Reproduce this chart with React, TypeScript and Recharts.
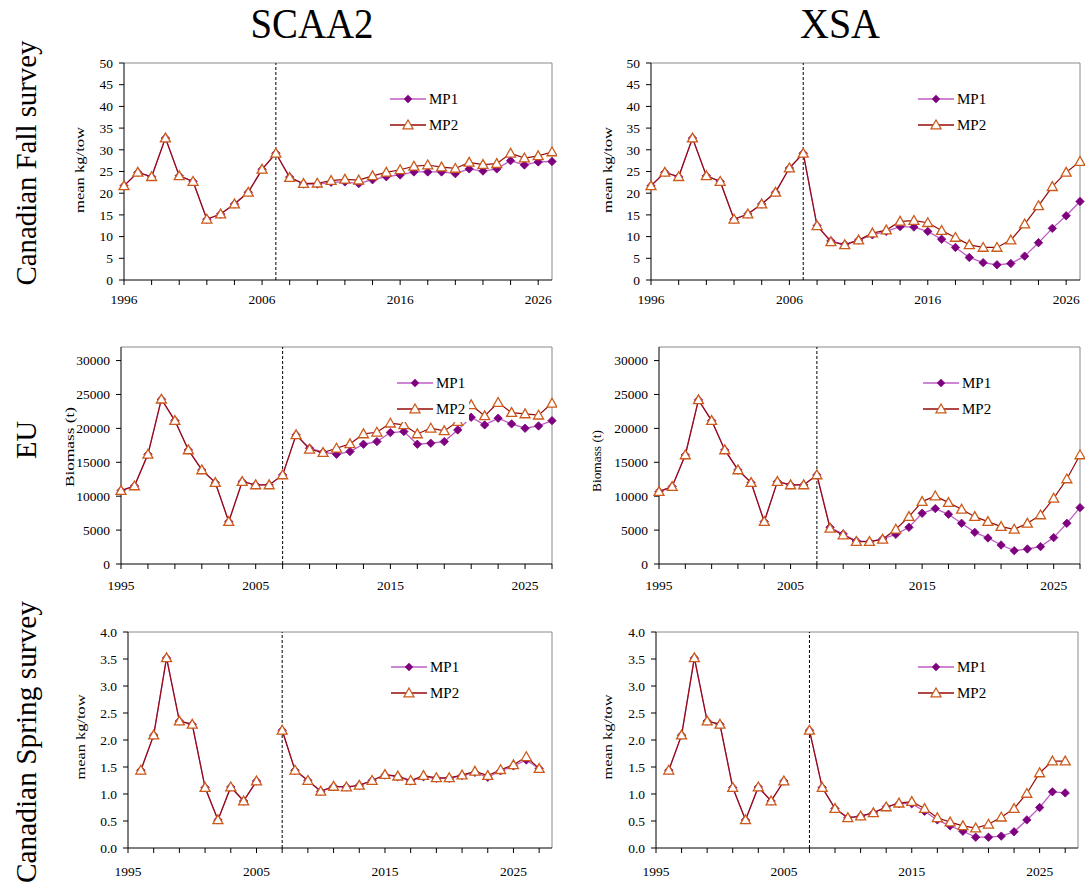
import React from 'react';
import { LineChart, Line, XAxis, YAxis, ReferenceLine, Legend } from 'recharts';

const FONT = '"Liberation Serif", "Times New Roman", serif';
const MP1_LINE = '#BE5EC6';
const MP1_DOT = '#7E007E';
const MP2_LINE = '#950A0A';
const MP2_DOT = '#CC5A1A';

// Canadian Fall survey, 1996-2027
const fallYears = [
  1996, 1997, 1998, 1999, 2000, 2001, 2002, 2003, 2004, 2005, 2006, 2007,
  2008, 2009, 2010, 2011, 2012, 2013, 2014, 2015, 2016, 2017, 2018, 2019,
  2020, 2021, 2022, 2023, 2024, 2025, 2026, 2027,
];
const fallScaaHist = [21.7, 24.8, 23.8, 32.7, 24.0, 22.7, 14.0, 15.2, 17.5, 20.2, 25.5, 29.2];
const fallScaaMP1 = [23.7, 22.1, 22.1, 22.5, 22.6, 22.2, 23.1, 23.8, 24.2, 24.9, 24.9, 24.9, 24.5, 25.6, 25.1, 25.6, 27.5, 26.5, 27.2, 27.3];
const fallScaaMP2 = [23.6, 22.2, 22.3, 22.9, 23.2, 23.0, 24.0, 24.8, 25.4, 26.2, 26.5, 26.0, 25.7, 27.1, 26.6, 26.8, 29.2, 28.1, 28.6, 29.5];
const fallXsaHist = [21.7, 24.8, 23.8, 32.7, 24.0, 22.7, 14.0, 15.2, 17.5, 20.2, 25.8, 29.2];
const fallXsaMP1 = [12.5, 9.0, 8.2, 9.2, 10.4, 11.2, 12.3, 12.2, 11.2, 9.4, 7.5, 5.2, 4.0, 3.5, 3.8, 5.5, 8.6, 11.9, 14.8, 18.1];
const fallXsaMP2 = [12.5, 8.8, 8.1, 9.2, 10.8, 11.5, 13.5, 13.7, 13.2, 11.4, 9.8, 8.1, 7.5, 7.5, 9.2, 12.9, 17.1, 21.5, 24.8, 27.3];

// EU biomass and Canadian Spring survey, 1995-2027
const longYears = [
  1995, 1996, 1997, 1998, 1999, 2000, 2001, 2002, 2003, 2004, 2005, 2006, 2007,
  2008, 2009, 2010, 2011, 2012, 2013, 2014, 2015, 2016, 2017, 2018, 2019,
  2020, 2021, 2022, 2023, 2024, 2025, 2026, 2027,
];
const euScaaHist = [10820, 11510, 16180, 24300, 21150, 16820, 13870, 12000, 6250, 12150, 11660, 11660, 13130];
const euScaaMP1 = [19040, 17070, 16480, 16180, 16580, 17660, 18050, 19380, 19530, 17660, 17810, 18050, 19770, 21640, 20510, 21500, 20660, 20020, 20360, 21140];
const euScaaMP2 = [19040, 16920, 16430, 17070, 17710, 19180, 19430, 20760, 20510, 19180, 20020, 19630, 21000, 23460, 21840, 23810, 22330, 22130, 21940, 23700];
const euXsaHist = [10670, 11410, 16080, 24200, 21150, 16820, 13870, 12000, 6250, 12150, 11660, 11660, 13130];
const euXsaMP1 = [5410, 4430, 3390, 3300, 3690, 4380, 5410, 7480, 8170, 7330, 6000, 4670, 3840, 2800, 1970, 2210, 2560, 3890, 6000, 8310];
const euXsaMP2 = [5260, 4280, 3300, 3300, 3640, 5120, 6980, 9200, 10030, 9050, 8070, 6980, 6250, 5510, 5120, 6000, 7230, 9690, 12540, 16080];

const springHist = [null, 1.44, 2.09, 3.52, 2.35, 2.29, 1.12, 0.52, 1.13, 0.87, 1.24, null, 2.18];
const springScaaMP1 = [1.44, 1.25, 1.05, 1.14, 1.13, 1.16, 1.25, 1.35, 1.32, 1.24, 1.32, 1.29, 1.29, 1.34, 1.40, 1.31, 1.43, 1.52, 1.63, 1.47];
const springScaaMP2 = [1.44, 1.25, 1.05, 1.14, 1.13, 1.16, 1.25, 1.36, 1.33, 1.25, 1.34, 1.30, 1.30, 1.35, 1.42, 1.34, 1.45, 1.54, 1.69, 1.47];
const springXsaMP1 = [1.12, 0.73, 0.56, 0.59, 0.65, 0.76, 0.82, 0.82, 0.68, 0.52, 0.41, 0.31, 0.20, 0.20, 0.22, 0.30, 0.52, 0.75, 1.04, 1.02];
const springXsaMP2 = [1.12, 0.73, 0.56, 0.59, 0.65, 0.76, 0.83, 0.86, 0.73, 0.56, 0.48, 0.41, 0.37, 0.44, 0.57, 0.73, 1.01, 1.39, 1.61, 1.61];

// ticks
const fallXTicks = [1996, 1998, 2000, 2002, 2004, 2006, 2008, 2010, 2012, 2014, 2016, 2018, 2020, 2022, 2024, 2026];
const fallXLabels = [1996, 2006, 2016, 2026];
const longXTicks = [1995, 1997, 1999, 2001, 2003, 2005, 2007, 2009, 2011, 2013, 2015, 2017, 2019, 2021, 2023, 2025, 2027];
const longXLabels = [1995, 2005, 2015, 2025];
const fallYTicks = [0, 5, 10, 15, 20, 25, 30, 35, 40, 45, 50];
const euYTicks = [0, 5000, 10000, 15000, 20000, 25000, 30000];
const springYTicks = [0, 0.5, 1.0, 1.5, 2.0, 2.5, 3.0, 3.5, 4.0];

const ASSESS_YEAR = 2007;
const Y_AXIS_W = 70;

function rows(years: number[], mp1: (number | null)[], mp2: (number | null)[]) {
  return years.map((year, i) => ({ year, mp1: mp1[i], mp2: mp2[i] }));
}

function Diamond(props: any) {
  const { cx, cy, index } = props;
  if (cx == null || cy == null || props.value == null) return <g key={`d${index}`} />;
  const r = 4.2;
  return (
    <path
      key={`d${index}`}
      d={`M${cx},${cy - r}L${cx + r},${cy}L${cx},${cy + r}L${cx - r},${cy}Z`}
      fill={MP1_DOT}
      stroke={MP1_DOT}
      strokeWidth={0.8}
    />
  );
}

function Triangle(props: any) {
  const { cx, cy, index } = props;
  if (cx == null || cy == null || props.value == null) return <g key={`t${index}`} />;
  return (
    <path
      key={`t${index}`}
      d={`M${cx},${cy - 5}L${cx + 5},${cy + 3.8}L${cx - 5},${cy + 3.8}Z`}
      fill="#fff"
      stroke={MP2_DOT}
      strokeWidth={1.3}
    />
  );
}

function LegendBox() {
  const item = (name: string, color: string, marker: React.ReactNode) => (
    <div style={{ display: 'flex', alignItems: 'center', height: 26 }}>
      <svg width={36} height={14}>
        <line x1={0} y1={7} x2={36} y2={7} stroke={color} strokeWidth={1.4} />
        {marker}
      </svg>
      <span style={{ marginLeft: 3, fontFamily: FONT, fontSize: 15, color: '#000' }}>{name}</span>
    </div>
  );
  return (
    <div style={{ background: '#fff', padding: '0 4px 0 2px' }}>
      {item('MP1', MP1_LINE, <path d="M18,2.8L22.2,7L18,11.2L13.8,7Z" fill={MP1_DOT} />)}
      {item('MP2', MP2_LINE, <path d="M18,2L23,10.8L13,10.8Z" fill="#fff" stroke={MP2_DOT} strokeWidth={1.3} />)}
    </div>
  );
}

interface Panel {
  data: { year: number; mp1: number | null; mp2: number | null }[];
  xDomain: [number, number];
  xTicks: number[];
  xLabels: number[];
  yMax: number;
  yTicks: number[];
  yFmt: (v: number) => string;
  left: number;
  top: number;
  width: number;
  height: number;
  yLabel: string;
  yLabelX: number;
  yLabelY: number;
  yLabelLen: number;
  legendX: number;
  legendY: number;
  tickGap: number;
}

const fmtInt = (v: number) => String(v);
const fmt1 = (v: number) => v.toFixed(1);

const panels: Panel[] = [
  {
    data: rows(fallYears, [...fallScaaHist, ...fallScaaMP1], [...fallScaaHist, ...fallScaaMP2]),
    xDomain: [1996, 2027], xTicks: fallXTicks, xLabels: fallXLabels,
    yMax: 50, yTicks: fallYTicks, yFmt: fmtInt,
    left: 124, top: 63, width: 428, height: 217,
    yLabel: 'mean kg/tow', yLabelX: 84, yLabelY: 170, yLabelLen: 86,
    legendX: 390, legendY: 99, tickGap: 9,
  },
  {
    data: rows(fallYears, [...fallXsaHist, ...fallXsaMP1], [...fallXsaHist, ...fallXsaMP2]),
    xDomain: [1996, 2027], xTicks: fallXTicks, xLabels: fallXLabels,
    yMax: 50, yTicks: fallYTicks, yFmt: fmtInt,
    left: 651, top: 63, width: 429, height: 217,
    yLabel: 'mean kg/tow', yLabelX: 612, yLabelY: 170, yLabelLen: 86,
    legendX: 918, legendY: 99, tickGap: 9,
  },
  {
    data: rows(longYears, [...euScaaHist, ...euScaaMP1], [...euScaaHist, ...euScaaMP2]),
    xDomain: [1995, 2027], xTicks: longXTicks, xLabels: longXLabels,
    yMax: 32000, yTicks: euYTicks, yFmt: fmtInt,
    left: 121, top: 347, width: 431, height: 217,
    yLabel: 'Biomass (t)', yLabelX: 74, yLabelY: 447, yLabelLen: 80,
    legendX: 397, legendY: 383, tickGap: 11,
  },
  {
    data: rows(longYears, [...euXsaHist, ...euXsaMP1], [...euXsaHist, ...euXsaMP2]),
    xDomain: [1995, 2027], xTicks: longXTicks, xLabels: longXLabels,
    yMax: 32000, yTicks: euYTicks, yFmt: fmtInt,
    left: 659, top: 347, width: 421, height: 217,
    yLabel: 'Biomass (t)', yLabelX: 601, yLabelY: 461, yLabelLen: 62,
    legendX: 923, legendY: 383, tickGap: 11,
  },
  {
    data: rows(longYears, [...springHist, ...springScaaMP1], [...springHist, ...springScaaMP2]),
    xDomain: [1995, 2028], xTicks: longXTicks, xLabels: longXLabels,
    yMax: 4, yTicks: springYTicks, yFmt: fmt1,
    left: 128, top: 632, width: 424, height: 216,
    yLabel: 'mean kg/tow', yLabelX: 85, yLabelY: 737, yLabelLen: 85,
    legendX: 391, legendY: 667, tickGap: 13,
  },
  {
    data: rows(longYears, [...springHist, ...springXsaMP1], [...springHist, ...springXsaMP2]),
    xDomain: [1995, 2028], xTicks: longXTicks, xLabels: longXLabels,
    yMax: 4, yTicks: springYTicks, yFmt: fmt1,
    left: 656, top: 632, width: 422, height: 216,
    yLabel: 'mean kg/tow', yLabelX: 612, yLabelY: 737, yLabelLen: 85,
    legendX: 918, legendY: 667, tickGap: 13,
  },
];

const tickStyle = { fontFamily: FONT, fontSize: 13.5, fill: '#000' };

function PanelChart({ p }: { p: Panel }) {
  const chartLeft = p.left - Y_AXIS_W;
  const chartTop = p.top - 10;
  const w = Y_AXIS_W + p.width + 5;
  const h = 10 + p.height + 40;
  return (
    <div style={{ position: 'absolute', left: chartLeft, top: chartTop, width: w, height: h }}>
      <LineChart width={w} height={h} data={p.data} margin={{ top: 10, right: 5, left: 0, bottom: 0 }}>
        <XAxis
          dataKey="year"
          type="number"
          domain={p.xDomain}
          ticks={p.xTicks}
          interval={0}
          tickFormatter={(v: number) => (p.xLabels.includes(v) ? String(v) : '')}
          axisLine={{ stroke: '#000' }}
          tickLine={{ stroke: '#000' }}
          tickSize={5}
          tickMargin={p.tickGap}
          tick={tickStyle}
          height={40}
        />
        <YAxis
          type="number"
          domain={[0, p.yMax]}
          ticks={p.yTicks}
          interval={0}
          tickFormatter={p.yFmt}
          axisLine={{ stroke: '#000' }}
          tickLine={{ stroke: '#000' }}
          tickSize={5}
          tickMargin={6}
          tick={tickStyle}
          width={Y_AXIS_W}
          label={() => (
            <text
              transform={`translate(${p.yLabelX - chartLeft},${p.yLabelY - chartTop}) rotate(-90)`}
              textAnchor="middle"
              fontFamily={FONT}
              fontSize={12.5}
              fill="#000"
              textLength={p.yLabelLen}
              lengthAdjust="spacingAndGlyphs"
            >
              {p.yLabel}
            </text>
          )}
        />
        <ReferenceLine y={p.yMax} stroke="#8a8a8a" />
        <ReferenceLine x={p.xDomain[1]} stroke="#8a8a8a" />
        <ReferenceLine x={ASSESS_YEAR} stroke="#000" strokeDasharray="3 2" />
        <Line
          dataKey="mp1"
          name="MP1"
          stroke={MP1_LINE}
          strokeWidth={1.3}
          dot={Diamond}
          activeDot={false}
          isAnimationActive={false}
        />
        <Line
          dataKey="mp2"
          name="MP2"
          stroke={MP2_LINE}
          strokeWidth={1.2}
          dot={Triangle}
          activeDot={false}
          isAnimationActive={false}
        />
        <Legend
          layout="vertical"
          align="center"
          verticalAlign="middle"
          wrapperStyle={{
            position: 'absolute',
            left: p.legendX - 2 - chartLeft,
            top: p.legendY - 13 - chartTop,
            width: 'auto',
            height: 'auto',
          }}
          content={() => <LegendBox />}
        />
      </LineChart>
    </div>
  );
}

export default function App() {
  return (
    <div style={{ position: 'absolute', left: 0, top: 0, width: 1085, height: 888, background: '#fff', overflow: 'hidden' }}>
      <svg width={1085} height={888} style={{ position: 'absolute', left: 0, top: 0 }}>
        <g fontFamily={FONT} fill="#000">
          <text x={312} y={38} fontSize={42} textAnchor="middle" textLength={123} lengthAdjust="spacingAndGlyphs">SCAA2</text>
          <text x={840} y={38} fontSize={42} textAnchor="middle" textLength={80} lengthAdjust="spacingAndGlyphs">XSA</text>
          <text transform="translate(36,163) rotate(-90)" fontSize={30} textAnchor="middle" textLength={245} lengthAdjust="spacingAndGlyphs">Canadian Fall survey</text>
          <text transform="translate(36,440) rotate(-90)" fontSize={30} textAnchor="middle" textLength={38} lengthAdjust="spacingAndGlyphs">EU</text>
          <text transform="translate(36,742) rotate(-90)" fontSize={30} textAnchor="middle" textLength={282} lengthAdjust="spacingAndGlyphs">Canadian Spring survey</text>
        </g>
      </svg>
      {panels.map((p, i) => (
        <PanelChart key={i} p={p} />
      ))}
    </div>
  );
}
